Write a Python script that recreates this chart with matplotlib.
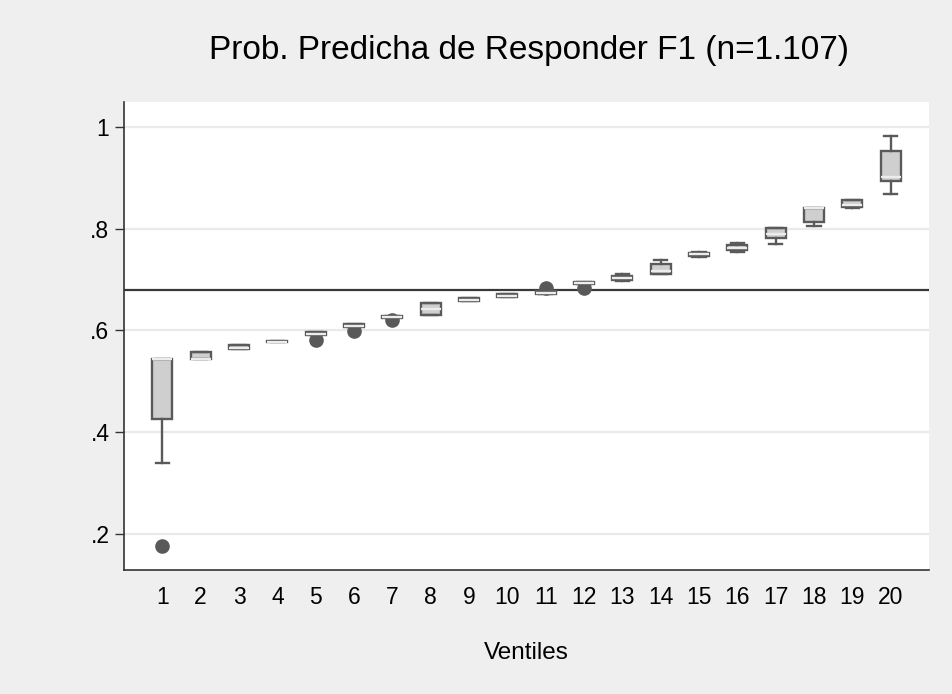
import matplotlib
matplotlib.use("Agg")
import matplotlib.pyplot as plt

plt.rcParams['font.family'] = ['Liberation Sans', 'DejaVu Sans']

ventiles = list(range(1, 21))
q1 =     [0.426, 0.543, 0.564, 0.577, 0.590, 0.607, 0.624, 0.630, 0.658, 0.665, 0.671, 0.691, 0.699, 0.710, 0.746, 0.758, 0.781, 0.813, 0.843, 0.894]
median = [0.543, 0.543, 0.565, 0.578, 0.593, 0.609, 0.626, 0.643, 0.660, 0.667, 0.674, 0.693, 0.703, 0.717, 0.750, 0.762, 0.790, 0.840, 0.847, 0.902]
q3 =     [0.543, 0.558, 0.572, 0.579, 0.597, 0.613, 0.628, 0.654, 0.664, 0.671, 0.678, 0.696, 0.707, 0.730, 0.753, 0.767, 0.802, 0.840, 0.856, 0.953]
wlo =    [0.339, 0.543, 0.564, 0.577, 0.590, 0.607, 0.624, 0.630, 0.658, 0.665, 0.671, 0.691, 0.697, 0.710, 0.745, 0.755, 0.769, 0.805, 0.841, 0.868]
whi =    [0.543, 0.558, 0.572, 0.579, 0.597, 0.613, 0.628, 0.654, 0.664, 0.671, 0.678, 0.696, 0.711, 0.738, 0.755, 0.771, 0.802, 0.840, 0.856, 0.982]
outliers = {1: [0.177], 5: [0.581], 6: [0.599], 7: [0.620], 11: [0.684], 12: [0.684]}
ref_line = 0.68
yticks = [0.2, 0.4, 0.6, 0.8, 1.0]
ytick_labels = ['.2', '.4', '.6', '.8', '1']
title = 'Prob. Predicha de Responder F1 (n=1.107)'
xlabel = 'Ventiles'

stats = []
for i, v in enumerate(ventiles):
    stats.append(dict(med=median[i], q1=q1[i], q3=q3[i], whislo=wlo[i], whishi=whi[i],
                      fliers=outliers.get(v, []), label=str(v)))

bg = '#EFEFEF'
edge = '#5A5A5A'
fig = plt.figure(figsize=(9.53, 6.94), dpi=100, facecolor=bg)
ax = fig.add_axes([124/953, 1-569.5/694, (929-124)/953, (569.5-102)/694])
ax.set_facecolor('white')

ax.set_xlim(0, 21)
ax.set_ylim(0.130, 1.049)
for y in yticks:
    ax.axhline(y, color='#EAEAEA', lw=1.6, zorder=0)
ax.axhline(ref_line, color='#383838', lw=1.6, zorder=1)

ax.bxp(stats, positions=ventiles, widths=0.52, capwidths=0.34, patch_artist=True,
       boxprops=dict(facecolor='#CFCFCF', edgecolor=edge, linewidth=1.7),
       medianprops=dict(color='#ECECEC', linewidth=1.7),
       whiskerprops=dict(color=edge, linewidth=1.7),
       capprops=dict(color=edge, linewidth=1.7),
       flierprops=dict(marker='o', markerfacecolor='#595959', markeredgecolor='#595959', markersize=9.5),
       manage_ticks=False, zorder=3)

ax.set_xticks(ventiles)
ax.set_xticklabels([str(v) for v in ventiles])
ax.set_yticks(yticks)
ax.set_yticklabels(ytick_labels)
ax.tick_params(axis='x', length=0, pad=12, labelsize=16.5)
ax.tick_params(axis='y', length=6.5, width=1, color='#333333', pad=4, labelsize=16.5)

for s in ['top', 'right']:
    ax.spines[s].set_visible(False)
for s in ['left', 'bottom']:
    ax.spines[s].set_color('#333333')
    ax.spines[s].set_linewidth(1.2)

fig.text(529/953, 1-51/694, title, ha='center', va='center', fontsize=24)
fig.text(526/953, 1-653/694, xlabel, ha='center', va='center', fontsize=17.5)

fig.savefig('out.png', dpi=100, facecolor=bg)
